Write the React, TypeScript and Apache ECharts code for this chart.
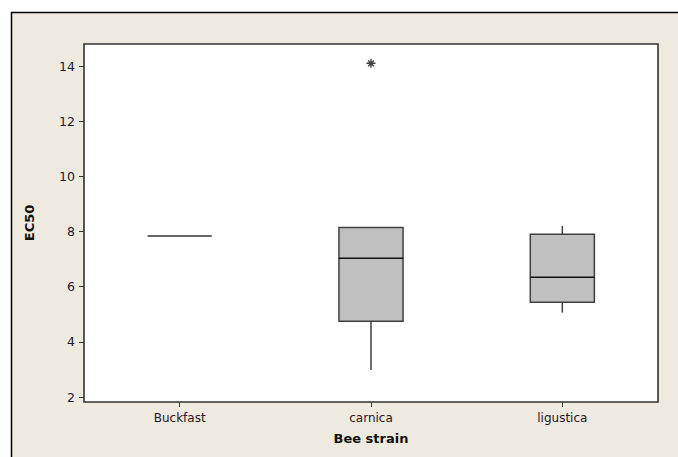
import React, { useEffect, useRef } from "react";
import * as echarts from "echarts";

const categories = ["Buckfast", "carnica", "ligustica"];
// [min, Q1, median, Q3, max]
const boxStats = [
  [7.84, 7.84, 7.84, 7.84, 7.84],
  [2.98, 4.75, 7.03, 8.15, 8.15],
  [5.06, 5.44, 6.34, 7.9, 8.2],
];
const outliers = [[1, 14.1]];
const yTicks = [2, 4, 6, 8, 10, 12, 14];
const yMin = 1.82;
const yMax = 14.8;

export default function App() {
  const ref = useRef<HTMLDivElement>(null);
  useEffect(() => {
    if (!ref.current) return;
    const chart = echarts.init(ref.current, undefined, { renderer: "svg" });
    const font = "DejaVu Sans, Verdana, sans-serif";
    const option: any = {
      animation: false,
      backgroundColor: "#ffffff",
      graphic: [
        {
          type: "rect",
          z: -10,
          shape: { x: 11.5, y: 12.5, width: 700, height: 500 },
          style: { fill: "#EEEAE0", stroke: "#000", lineWidth: 1.5 },
        },
      ],
      grid: {
        show: true,
        left: 84,
        right: 20,
        top: 44,
        bottom: 55,
        backgroundColor: "#ffffff",
        borderColor: "#333",
        borderWidth: 1.6,
      },
      xAxis: {
        type: "category",
        data: categories,
        boundaryGap: true,
        name: "Bee strain",
        nameLocation: "middle",
        nameGap: 30,
        nameTextStyle: { fontFamily: font, fontSize: 13, fontWeight: "bold", color: "#111" },
        axisLine: { show: false },
        axisTick: { show: true, alignWithLabel: true, length: 5, lineStyle: { color: "#333" } },
        axisLabel: { fontFamily: font, fontSize: 12, color: "#2a1420", margin: 10 },
        splitLine: { show: false },
      },
      yAxis: {
        type: "value",
        min: yMin,
        max: yMax,
        name: "EC50",
        nameLocation: "middle",
        nameRotate: 90,
        nameGap: 48,
        nameTextStyle: { fontFamily: font, fontSize: 13, fontWeight: "bold", color: "#111" },
        axisLine: { show: false },
        axisTick: { show: true, length: 5, customValues: yTicks, lineStyle: { color: "#333" } },
        axisLabel: {
          fontFamily: font,
          fontSize: 12.5,
          color: "#1a1a30",
          margin: 9,
          customValues: yTicks,
        },
        splitLine: { show: false },
      },
      series: [
        {
          type: "custom",
          data: boxStats.map((s, i) => [i, ...s]),
          encode: { x: 0, y: [1, 2, 3, 4, 5] },
          renderItem: (params: any, api: any) => {
            const idx = api.value(0);
            const v = [1, 2, 3, 4, 5].map((k) => api.value(k));
            const p = v.map((val) => api.coord([idx, val]));
            const cx = p[0][0];
            const bw = api.size([1, 0])[0] * 0.335;
            const yMinP = p[0][1], yQ1 = p[1][1], yMed = p[2][1], yQ3 = p[3][1], yMaxP = p[4][1];
            const children: any[] = [];
            const ws = { stroke: "#404040", lineWidth: 1.5 };
            if (v[0] < v[1]) {
              children.push({ type: "line", shape: { x1: cx, y1: yMinP, x2: cx, y2: yQ1 }, style: ws });
            }
            if (v[4] > v[3]) {
              children.push({ type: "line", shape: { x1: cx, y1: yQ3, x2: cx, y2: yMaxP }, style: ws });
            }
            if (v[3] > v[1]) {
              children.push({
                type: "rect",
                shape: { x: cx - bw / 2, y: yQ3, width: bw, height: yQ1 - yQ3 },
                style: { fill: "#C0C0C0", stroke: "#404040", lineWidth: 1.5 },
              });
              children.push({
                type: "line",
                shape: { x1: cx - bw / 2, y1: yMed, x2: cx + bw / 2, y2: yMed },
                style: { stroke: "#111", lineWidth: 1.5 },
              });
            } else {
              children.push({
                type: "line",
                shape: { x1: cx - bw / 2, y1: yMed, x2: cx + bw / 2, y2: yMed },
                style: { stroke: "#666", lineWidth: 2 },
              });
            }
            return { type: "group", children };
          },
        },
        {
          type: "scatter",
          data: outliers,
          symbol: "path://M0,5 L10,5 M1.8,1.8 L8.2,8.2 M1.8,8.2 L8.2,1.8 M5,0 L5,10",
          symbolSize: 9,
          itemStyle: { color: "none", borderColor: "#111", borderWidth: 1.4 },
        },
      ],
    };
    chart.setOption(option);
    return () => chart.dispose();
  }, []);
  return (
    <div
      ref={ref}
      style={{ position: "absolute", left: 0, top: 0, width: 678, height: 457 }}
    />
  );
}
